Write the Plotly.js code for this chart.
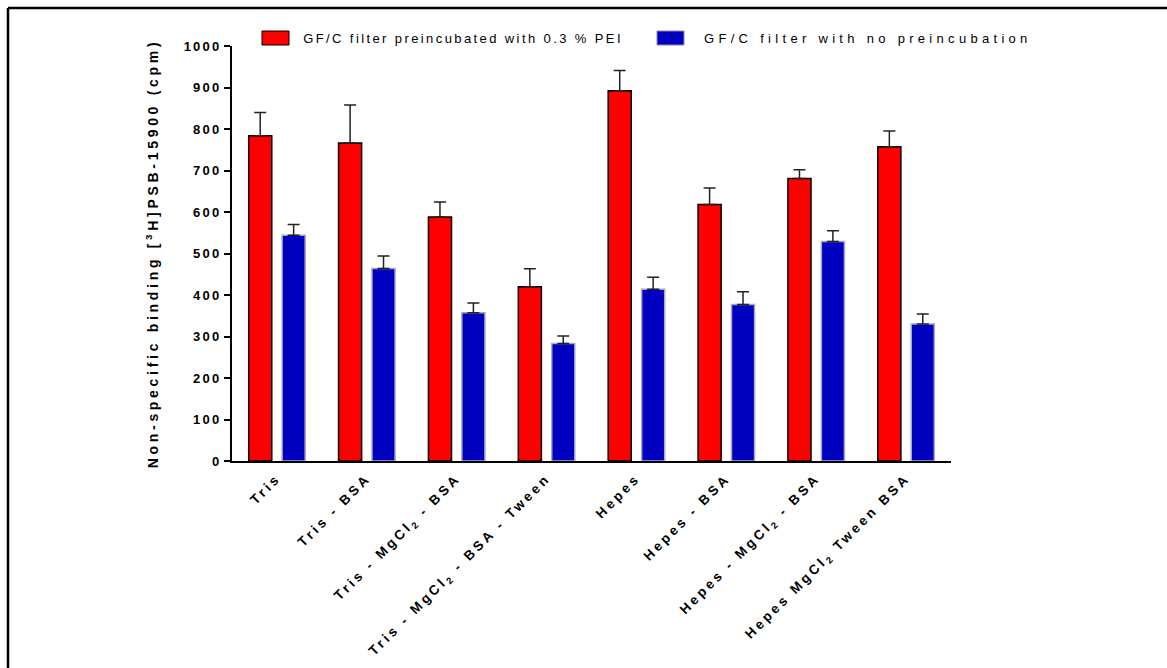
<!DOCTYPE html>
<html>
<head>
<meta charset="utf-8">
<script src="https://cdn.plot.ly/plotly-3.0.1.min.js"></script>
<style>
  html, body { margin: 0; padding: 0; background: #fff; }
  #chart { width: 1167px; height: 668px; }
  .xtick text { letter-spacing: 3.2px; }
  .ytick text { letter-spacing: 2.2px; }
  .g-ytitle text { letter-spacing: 3.7px; }
</style>
</head>
<body>
<div id="chart"></div>
<script>
const categories = [
  'Tris',
  'Tris - BSA',
  'Tris - MgCl<sub>2</sub> - BSA',
  'Tris - MgCl<sub>2</sub> - BSA - Tween',
  'Hepes',
  'Hepes - BSA',
  'Hepes - MgCl<sub>2</sub> - BSA',
  'Hepes MgCl<sub>2</sub> Tween BSA'
];
const peiValues = [784, 766, 588, 420, 892, 618, 681, 757];
const peiErrors = [56, 92, 36, 43, 49, 40, 21, 38];
const noPreValues = [544, 464, 357, 283, 414, 377, 529, 330];
const noPreErrors = [26, 30, 24, 18, 29, 31, 26, 24];
const seriesNames = ['GF/C filter preincubated with 0.3 % PEI', 'GF/C filter with no preincubation'];
const seriesColors = ['#FF0000', '#0000C0'];
const seriesOutlines = ['#000000', '#A8A8C0'];
const zeros = categories.map(() => 0);

const traces = [
  {
    type: 'bar', name: seriesNames[0], x: categories, y: peiValues,
    marker: { color: seriesColors[0], line: { color: seriesOutlines[0], width: 1.5 } },
    error_y: { type: 'data', symmetric: false, array: peiErrors, arrayminus: zeros,
               color: '#222222', thickness: 1.5, width: 6 }
  },
  {
    type: 'bar', name: seriesNames[1], x: categories, y: noPreValues,
    marker: { color: seriesColors[1], line: { color: seriesOutlines[1], width: 1.5 } },
    error_y: { type: 'data', symmetric: false, array: noPreErrors, arrayminus: zeros,
               color: '#222222', thickness: 1.5, width: 6 }
  }
];

const L = 232, T = 46, W = 719, H = 415;
function px(x) { return (x - L) / W; }
function py(y) { return (T + H - y) / H; }

// manual legend (swatch boxes + text)
const legendItems = [
  { sx0: 262, sx1: 289, tc: 463 },
  { sx0: 657, sx1: 684, tc: 868 }
];
const legendShapes = legendItems.map((it, i) => ({
  type: 'rect', xref: 'paper', yref: 'paper',
  x0: px(it.sx0), x1: px(it.sx1), y0: py(45), y1: py(31),
  fillcolor: seriesColors[i], line: { color: i === 0 ? '#000' : '#8888A8', width: 1 }
}));
const legendAnnotations = legendItems.map((it, i) => ({
  xref: 'paper', yref: 'paper', x: px(it.tc), y: py(38), xanchor: 'center', yanchor: 'middle',
  text: seriesNames[i], showarrow: false, font: { size: 13, color: '#000' }
}));

const layout = {
  width: 1167, height: 668,
  margin: { l: 232, r: 216, t: 46, b: 207 },
  paper_bgcolor: '#ffffff', plot_bgcolor: '#ffffff',
  font: { family: 'Liberation Sans, Arial, sans-serif', color: '#000000' },
  barmode: 'group', bargap: 0.256, bargroupgap: 0.31,
  showlegend: false,
  xaxis: {
    type: 'category', showline: true, linecolor: '#000', linewidth: 2,
    ticks: '', tickangle: -45, showgrid: false, zeroline: false, ticklabelstandoff: 2,
    tickfont: { size: 13.5, weight: 'bold', color: '#000' }
  },
  yaxis: {
    range: [0, 1000], dtick: 100, tick0: 0, showline: true, linecolor: '#000', linewidth: 2,
    ticks: 'outside', ticklen: 6, tickwidth: 2, tickcolor: '#000',
    showgrid: false, zeroline: false,
    tickfont: { size: 13, weight: 'bold', color: '#000' },
    title: { text: 'Non-specific binding [<sup>3</sup>H]PSB-15900 (cpm)', standoff: 22,
             font: { size: 14, weight: 'bold', color: '#000' } }
  },
  annotations: legendAnnotations,
  shapes: [
    { type: 'line', xref: 'paper', yref: 'paper', x0: px(8), x1: px(8), y0: py(8), y1: py(668),
      line: { color: '#000', width: 2.5 } },
    { type: 'line', xref: 'paper', yref: 'paper', x0: px(8), x1: px(1167), y0: py(8), y1: py(8),
      line: { color: '#000', width: 2.5 } }
  ].concat(legendShapes)
};

Plotly.newPlot('chart', traces, layout, { displayModeBar: false, staticPlot: true }).then(() => {
  const spacings = ['2.4px', '4.3px'];
  document.querySelectorAll('#chart .annotation-text').forEach((el, i) => {
    el.style.letterSpacing = spacings[i] || '2.4px';
  });
});
</script>
</body>
</html>
